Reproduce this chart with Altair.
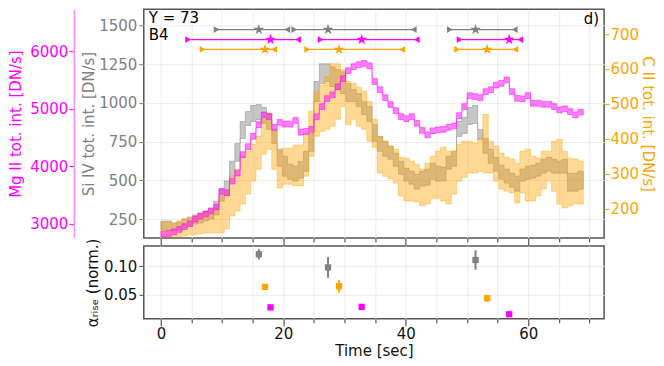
import altair as alt
import pandas as pd

# ---------------- data ----------------
time_start = [0.0, 0.86, 1.73, 2.59, 3.45, 4.31, 5.18, 6.04, 6.9, 7.76,
              8.63, 9.49, 10.35, 11.21, 12.08, 12.94, 13.8, 14.66, 15.53, 16.39,
              17.25, 18.11, 18.98, 19.84, 20.7, 21.56, 22.43, 23.29, 24.15, 25.01,
              25.88, 26.74, 27.6, 28.46, 29.33, 30.19, 31.05, 31.91, 32.78, 33.64,
              34.5, 35.36, 36.23, 37.09, 37.95, 38.81, 39.68, 40.54, 41.4, 42.26,
              43.13, 43.99, 44.85, 45.71, 46.58, 47.44, 48.3, 49.16, 50.03, 50.89,
              51.75, 52.61, 53.48, 54.34, 55.2, 56.06, 56.93, 57.79, 58.65, 59.51,
              60.38, 61.24, 62.1, 62.96, 63.83, 64.69, 65.55, 66.41, 67.28, 68.14]
time_end = 69.0

mg_tot = [2820, 2830, 2860, 2900, 2950, 3000, 3080, 3130, 3170, 3220,
          3290, 3560, 3540, 3740, 3880, 4200, 4340, 4520, 4720, 4890,
          4860, 4673, 4760, 4730, 4730, 4795, 4590, 4605, 4640, 4860,
          5035, 5175, 5240, 5380, 5520, 5660, 5730, 5765, 5785, 5745,
          5470, 5330, 5190, 5070, 4965, 4860, 4825, 4860, 4745, 4620,
          4545, 4615, 4630, 4640, 4675, 4700, 4880, 5035, 5225, 5210,
          5190, 5295, 5330, 5410, 5440, 5500, 5296, 5180, 5170, 5227,
          5093, 5093, 5076, 5076, 5036, 4980, 4997, 4950, 4893, 4938]
mg_err = 50

si_hi = [239, 239, 226, 233, 252, 265, 278, 291, 303, 323,
         367, 444, 496, 624, 739, 880, 944, 983, 989, 970,
         932, 829, 701, 656, 605, 592, 624, 688, 803, 1137,
         1252, 1252, 1233, 1214, 1201, 1124, 1085, 1060, 1008, 976,
         861, 784, 752, 720, 675, 624, 579, 560, 540, 560,
         573, 611, 592, 585, 656, 688, 880, 906, 970, 983,
         829, 771, 701, 649, 598, 573, 547, 528, 573, 592,
         598, 611, 637, 649, 637, 624, 637, 547, 547, 560]
si_lo = [181, 181, 175, 181, 194, 207, 220, 226, 239, 252,
         278, 367, 400, 528, 624, 771, 855, 880, 893, 867,
         829, 739, 592, 528, 508, 496, 515, 560, 688, 1008,
         1124, 1137, 1105, 1085, 1060, 1008, 1008, 976, 925, 880,
         752, 688, 656, 637, 592, 540, 496, 476, 444, 464,
         470, 508, 496, 496, 573, 592, 784, 803, 861, 867,
         765, 675, 611, 560, 508, 483, 457, 431, 496, 508,
         515, 528, 547, 560, 547, 547, 547, 431, 431, 444]

c_hi = [162, 162, 159, 165, 171, 171, 179, 185, 191, 193,
        202, 236, 250, 293, 313, 350, 364, 384, 407, 456,
        473, 421, 364, 373, 373, 382, 382, 413, 479, 536,
        553, 578, 615, 615, 598, 564, 558, 547, 536, 507,
        456, 407, 393, 379, 370, 347, 344, 336, 327, 313,
        330, 350, 364, 376, 364, 364, 384, 393, 393, 387,
        402, 470, 393, 379, 359, 347, 342, 330, 364, 370,
        350, 344, 364, 364, 393, 399, 364, 344, 342, 336]
c_lo = [119, 119, 119, 119, 122, 125, 125, 128, 131, 131,
        131, 131, 142, 179, 193, 213, 242, 279, 313, 356,
        370, 313, 259, 270, 270, 265, 265, 293, 350, 407,
        421, 427, 436, 456, 493, 441, 456, 436, 427, 393,
        376, 302, 293, 285, 273, 236, 222, 222, 219, 208,
        213, 228, 230, 222, 213, 242, 279, 290, 302, 302,
        307, 302, 302, 279, 256, 250, 245, 216, 245, 222,
        222, 236, 256, 279, 250, 213, 202, 208, 213, 213]

# rise phases (start, peak, end) per line, in seconds
si_rise_start = [9.1, 21.8, 47.2]
si_rise_peak = [16.0, 27.3, 51.4]
si_rise_end = [20.65, 41.3, 57.8]
mg_rise_start = [4.45, 26.1, 48.8]
mg_rise_peak = [17.9, 32.8, 56.9]
mg_rise_end = [22.4, 41.8, 58.7]
c_rise_start = [6.8, 23.9, 48.4]
c_rise_peak = [17.0, 29.1, 53.3]
c_rise_end = [18.5, 39.4, 57.9]
rise_row_level = {"si": 1472, "mg": 1408, "c": 1344}  # Si IV axis units

si_alpha = [0.121, 0.098, 0.111]
si_alpha_err = [0.009, 0.018, 0.017]
c_alpha = [0.064, 0.065, 0.044]
c_alpha_err = [0.003, 0.011, 0.006]
mg_alpha = [0.028, 0.029, 0.016]
mg_alpha_err = [0.001, 0.001, 0.001]

# ---------------- tables ----------------
rows = []
for i, t in enumerate(time_start):
    rows.append(dict(t=t, mg_hi=mg_tot[i] + mg_err, mg_lo=mg_tot[i] - mg_err,
                     si_hi=si_hi[i], si_lo=si_lo[i], c_hi=c_hi[i], c_lo=c_lo[i]))
last = dict(rows[-1])
last["t"] = time_end
rows.append(last)
df = pd.DataFrame(rows)

rise_rows = []
for key, s, p, e in [("si", si_rise_start, si_rise_peak, si_rise_end),
                     ("mg", mg_rise_start, mg_rise_peak, mg_rise_end),
                     ("c", c_rise_start, c_rise_peak, c_rise_end)]:
    for a, b, c in zip(s, p, e):
        rise_rows.append(dict(series=key, start=a, peak=b, end=c, lvl=rise_row_level[key]))
rise = pd.DataFrame(rise_rows)

alpha_rows = []
for key, pk, v, er in [("si", si_rise_peak, si_alpha, si_alpha_err),
                       ("c", c_rise_peak, c_alpha, c_alpha_err),
                       ("mg", mg_rise_peak, mg_alpha, mg_alpha_err)]:
    for a, b, c in zip(pk, v, er):
        alpha_rows.append(dict(series=key, t=a, val=b, lo=b - c, hi=b + c))
alpha_df = pd.DataFrame(alpha_rows)

# ---------------- style ----------------
GRAY, MAG, ORA = "#808080", "#ff00ff", "#ffa500"
GRID = "#ececec"
FRAME = "#555555"
FONT = "DejaVu Sans"
W = 461

X_DOM = [-2.8, 72.4]
SI_DOM = [130, 1603]
C_DOM = [116, 771]
MG_DOM = [2753, 6727]
A_DOM = [0.008, 0.1357]

xscale = alt.Scale(domain=X_DOM, nice=False, zero=False)
tick_cond = {"condition": {"test": "datum.value % 20 === 0", "value": 7}, "value": 4}
xvals = [0, 5, 10, 15, 20, 25, 30, 35, 40, 45, 50, 55, 60, 65, 70]

top_xaxis = alt.Axis(values=xvals, labels=False, title=None, grid=True, gridColor=GRID,
                     domain=False, tickColor=FRAME, tickSize=tick_cond, tickWidth=1.2,
                     minExtent=0, maxExtent=7)

def xt(field):
    return alt.X(field, type="quantitative", scale=xscale, axis=top_xaxis)

color_scale = alt.Scale(domain=["si", "mg", "c"], range=[GRAY, MAG, ORA])

si_axis = alt.Axis(orient="left", values=[250, 500, 750, 1000, 1250, 1500], format="d",
                   title="Si IV tot. int. [DN/s]", titleColor=GRAY, labelColor=GRAY,
                   tickColor=GRAY, grid=True, gridColor=GRID, domain=False, tickSize=5,
                   labelPadding=2, titlePadding=2)
c_axis = alt.Axis(orient="right", values=[200, 300, 400, 500, 600, 700], format="d",
                  title="C II tot. int. [DN/s]", titleColor=ORA, labelColor=ORA,
                  tickColor=ORA, grid=False, domain=False, tickSize=5,
                  labelPadding=1, titlePadding=1)
mg_axis = alt.Axis(orient="left", offset=70, values=[3000, 4000, 5000, 6000], format="d",
                   title="Mg II tot. int. [DN/s]", titleColor=MAG, labelColor=MAG,
                   tickColor=MAG, grid=False, domain=True, domainColor="#ff88ff",
                   domainWidth=1.5, tickSize=5, labelPadding=1, titlePadding=6)

def band(hi, lo, color, dom, axis, op):
    return alt.Chart(df).mark_area(
        interpolate="step-after", fill=color, fillOpacity=op, stroke=color,
        strokeOpacity=op, strokeWidth=1
    ).encode(
        x=xt("t"),
        y=alt.Y(hi, type="quantitative", scale=alt.Scale(domain=dom, nice=False, zero=False), axis=axis),
        y2=alt.Y2(lo),
    )

gray_band = band("si_hi", "si_lo", GRAY, SI_DOM, si_axis, 0.45)
orange_band = band("c_hi", "c_lo", ORA, C_DOM, c_axis, 0.42)
mag_band = band("mg_hi", "mg_lo", MAG, MG_DOM, mg_axis, 0.5)

ylvl = alt.Y("lvl:Q", scale=alt.Scale(domain=SI_DOM, nice=False, zero=False), axis=None)
col = alt.Color("series:N", scale=color_scale, legend=None)

rise_rule = alt.Chart(rise).mark_rule(strokeWidth=1.3).encode(
    x=xt("start"), x2="end", y=ylvl, color=col)
rise_start = alt.Chart(rise).mark_point(shape="triangle-right", filled=True, size=45, opacity=1).encode(
    x=xt("start"), y=ylvl, color=col)
rise_end = alt.Chart(rise).mark_point(shape="triangle-left", filled=True, size=45, opacity=1).encode(
    x=xt("end"), y=ylvl, color=col)
STAR = ("M0,-1L0.224,-0.309L0.951,-0.309L0.363,0.118L0.588,0.809L0,0.382"
        "L-0.588,0.809L-0.363,0.118L-0.951,-0.309L-0.224,-0.309Z")
rise_peak = alt.Chart(rise).mark_point(shape=STAR, filled=True, size=130, opacity=1).encode(
    x=xt("peak"), y=ylvl, color=col)

def label(txt, x, y, align="left"):
    return alt.Chart(pd.DataFrame({"s": [txt]})).mark_text(
        font=FONT, fontSize=15, color="#000000", align=align, baseline="middle"
    ).encode(text="s:N", x=alt.value(x), y=alt.value(y))

top = alt.layer(
    gray_band, orange_band, mag_band, rise_rule, rise_start, rise_end, rise_peak,
    label("Y = 73", 5, 9), label("B4", 5, 26), label("d)", W - 5, 10, "right"),
).resolve_scale(y="independent").properties(width=W, height=229)

# ---------------- bottom panel ----------------
bot_xaxis = alt.Axis(values=xvals, labelExpr="datum.value % 20 === 0 ? datum.label : ''",
                     title="Time [sec]", grid=True, gridColor=GRID, domain=False,
                     tickColor=FRAME, tickSize=tick_cond, tickWidth=1.2, labelPadding=1,
                     titlePadding=2)
bx = alt.X("t:Q", scale=xscale, axis=bot_xaxis)
ascale = alt.Scale(domain=A_DOM, nice=False, zero=False)
a_axis = alt.Axis(values=[0.05, 0.10], format=".2f", title="\u03b1\u1d63\u1d62\u209b\u2091 (norm.)",
                  grid=True, gridColor=GRID, domain=False, tickColor=FRAME, tickSize=5,
                  titlePadding=3)

err = alt.Chart(alpha_df).mark_rule(strokeWidth=2).encode(
    x=bx, y=alt.Y("lo:Q", scale=ascale, axis=a_axis), y2="hi:Q", color=col)
pts = alt.Chart(alpha_df).mark_square(size=40, opacity=1).encode(
    x=bx, y=alt.Y("val:Q", scale=ascale, axis=a_axis), color=col)
bottom = alt.layer(err, pts).properties(width=W, height=73)

chart = alt.vconcat(top, bottom, spacing=8, bounds="flush").properties(padding=0).configure_view(
    stroke=FRAME, strokeWidth=1.5
).configure_axis(
    labelFont=FONT, titleFont=FONT, labelFontSize=15, titleFontSize=15,
    titleFontWeight="normal", labelColor="#111111", titleColor="#111111"
)

chart.save("out.html", embed_options={"renderer": "svg", "actions": False})
